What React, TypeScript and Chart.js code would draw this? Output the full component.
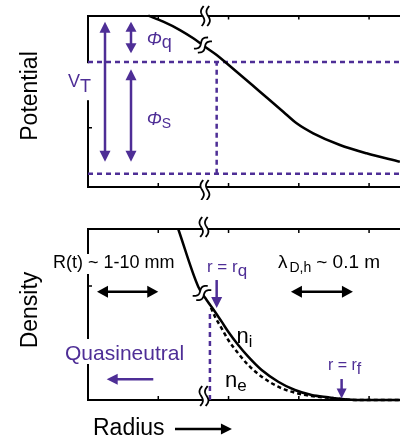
import React, { useEffect, useRef } from 'react';
import { Chart, registerables } from 'chart.js';

Chart.register(...registerables);

const PURPLE = '#4e2e96';
const BLACK = '#000000';
const FONT = '"Liberation Sans", Arial, sans-serif';

// Shared (broken) radius axis, arbitrary units
const R_MAX = 4.44;
const R_TICKS = [1, 2, 3, 4];

// Top panel: potential profile
const potentialR = [0.858, 1.071, 1.309, 1.498, 1.664, 1.831, 1.973, 2.115, 2.447, 2.778, 2.969, 3.205, 3.585, 3.964, 4.438];
const potentialV = [2.897, 2.795, 2.654, 2.514, 2.372, 2.232, 2.092, 1.95, 1.611, 1.273, 1.077, 0.908, 0.71, 0.57, 0.428];
const POT_MAX = 2.9;
const POT_TICKS = [1, 2];
const phiQuasi = 2.115; // potential at r = r_q
const phiWall = 0.225; // far-field potential
const rqTop = 1.831;

// Bottom panel: densities
const ionR = [1.284, 1.569, 1.688, 1.807, 1.902, 1.996, 2.138, 2.28, 2.471, 2.707, 2.944, 3.182, 3.418, 3.609, 3.87, 4.44];
const ionN = [3.0, 1.988, 1.754, 1.549, 1.374, 1.198, 0.965, 0.76, 0.526, 0.321, 0.175, 0.088, 0.047, 0.018, 0, 0];
const elecR = [1.75, 1.807, 1.902, 1.996, 2.138, 2.28, 2.471, 2.707, 2.944, 3.182, 3.513, 3.8, 4.44];
const elecN = [1.62, 1.461, 1.258, 1.053, 0.819, 0.614, 0.409, 0.233, 0.128, 0.07, 0.03, 0, 0];
const DEN_MAX = 3;
const DEN_TICKS = [1, 2];
const rqBottom = 1.735;
const nAtRq = 1.549;

type Seg = { t: string; size: number; italic?: boolean; dy?: number; gap?: number };
type Label = { x: number; y: number; color: string; segs: Seg[]; rotate?: boolean; mask?: number[] };
type Arrow = { x1: number; y1: number; x2: number; y2: number; color: string; start?: boolean; end?: boolean; lw?: number; hl?: number; hw?: number };
type Brk = { x: number; y: number; angle: number; h: number };

const topLabels: Label[] = [
  { x: -0.725, y: 1.539, color: BLACK, rotate: true, segs: [{ t: 'Potential', size: 23 }] },
  { x: -0.284, y: 1.696, color: PURPLE, segs: [{ t: 'V', size: 18 }, { t: 'T', size: 18, dy: 5 }], mask: [10.5, 8.5, 2, 3] },
  { x: 0.835, y: 2.401, color: PURPLE, segs: [{ t: 'Φ', size: 18, italic: true }, { t: 'q', size: 18, dy: 3 }] },
  { x: 0.835, y: 1.048, color: PURPLE, segs: [{ t: 'Φ', size: 18, italic: true }, { t: 'S', size: 14, dy: 3 }] },
];
const topArrows: Arrow[] = [
  { x1: 0.242, y1: 0.428, x2: 0.242, y2: 2.795, color: PURPLE, start: true, end: true },
  { x1: 0.612, y1: 2.261, x2: 0.612, y2: 2.795, color: PURPLE, start: true, end: true, hl: 10 },
  { x1: 0.612, y1: 0.428, x2: 0.612, y2: 1.99, color: PURPLE, start: true, end: true },
];
const topBreaks: Brk[] = [
  { x: 1.671, y: 2.891, angle: 0, h: 20 },
  { x: 1.664, y: -0.051, angle: 0, h: 20 },
  { x: 1.636, y: 2.401, angle: 45, h: 18 },
];

const bottomLabels: Label[] = [
  { x: -0.725, y: 1.579, color: BLACK, rotate: true, segs: [{ t: 'Density', size: 23 }] },
  { x: -0.498, y: 2.316, color: BLACK, segs: [{ t: 'R(t) ~ 1-10 mm', size: 18 }], mask: [1, 2, 1, 1] },
  { x: 2.703, y: 2.316, color: BLACK, segs: [{ t: 'λ', size: 19, gap: 2 }, { t: 'D,h', size: 14, dy: 4, gap: 5 }, { t: '~ 0.1 m', size: 19 }] },
  { x: 1.693, y: 2.246, color: PURPLE, segs: [{ t: 'r = r', size: 17 }, { t: 'q', size: 17, dy: 4 }] },
  { x: 2.115, y: 0.995, color: BLACK, segs: [{ t: 'n', size: 22 }, { t: 'i', size: 16, dy: 4 }] },
  { x: 1.949, y: 0.233, color: BLACK, segs: [{ t: 'n', size: 22 }, { t: 'e', size: 17, dy: 4 }] },
  { x: -0.327, y: 0.702, color: PURPLE, segs: [{ t: 'Quasineutral', size: 21 }], mask: [6, 0, 1, 1] },
  { x: 3.414, y: 0.526, color: PURPLE, segs: [{ t: 'r = r', size: 16 }, { t: 'f', size: 16, dy: 4 }] },
  { x: 0.071, y: -0.614, color: BLACK, segs: [{ t: 'Radius', size: 23 }] },
];
const bottomArrows: Arrow[] = [
  { x1: 1.831, y1: 2.105, x2: 1.831, y2: 1.614, color: PURPLE, end: true },
  { x1: 0.128, y1: 1.9, x2: 1.0, y2: 1.9, color: BLACK, start: true, end: true, hw: 12 },
  { x1: 2.888, y1: 1.9, x2: 3.77, y2: 1.9, color: BLACK, start: true, end: true, hw: 12 },
  { x1: 0.929, y1: 0.363, x2: 0.266, y2: 0.363, color: PURPLE, end: true },
  { x1: 3.609, y1: 0.368, x2: 3.609, y2: 0.026, color: PURPLE, end: true, hl: 10, hw: 10 },
  { x1: 1.238, y1: -0.509, x2: 2.048, y2: -0.509, color: BLACK, end: true },
];
const bottomBreaks: Brk[] = [
  { x: 1.65, y: 3.035, angle: 0, h: 20 },
  { x: 1.65, y: 0.07, angle: 0, h: 20 },
  { x: 1.622, y: 1.877, angle: 50, h: 18 },
];

function fontOf(s: Seg) {
  return `${s.italic ? 'italic ' : ''}${s.size}px ${FONT}`;
}

function drawArrow(ctx: CanvasRenderingContext2D, a: Arrow, X: (v: number) => number, Y: (v: number) => number) {
  const x1 = X(a.x1), y1 = Y(a.y1), x2 = X(a.x2), y2 = Y(a.y2);
  const hl = a.hl ?? 11, hw = a.hw ?? 11, lw = a.lw ?? 2.5;
  const ang = Math.atan2(y2 - y1, x2 - x1);
  const ux = Math.cos(ang), uy = Math.sin(ang);
  let sx = x1, sy = y1, ex = x2, ey = y2;
  if (a.start) { sx += ux * hl * 0.8; sy += uy * hl * 0.8; }
  if (a.end) { ex -= ux * hl * 0.8; ey -= uy * hl * 0.8; }
  ctx.strokeStyle = a.color;
  ctx.fillStyle = a.color;
  ctx.lineWidth = lw;
  ctx.lineCap = 'butt';
  ctx.beginPath();
  ctx.moveTo(sx, sy);
  ctx.lineTo(ex, ey);
  ctx.stroke();
  const head = (tx: number, ty: number, dx: number, dy: number) => {
    ctx.beginPath();
    ctx.moveTo(tx, ty);
    ctx.lineTo(tx - dx * hl - dy * hw / 2, ty - dy * hl + dx * hw / 2);
    ctx.lineTo(tx - dx * hl + dy * hw / 2, ty - dy * hl - dx * hw / 2);
    ctx.closePath();
    ctx.fill();
  };
  if (a.end) head(x2, y2, ux, uy);
  if (a.start) head(x1, y1, -ux, -uy);
}

function markPoints(off: number, h: number) {
  const pts: number[][] = [];
  for (let i = 0; i <= 24; i++) {
    const t = i / 24;
    const a = (t - 0.5) * h;
    const c = off - 2.2 * Math.sin(2 * Math.PI * t) + 2 * (0.5 - t);
    pts.push([c, a]);
  }
  return pts;
}

function drawBreak(ctx: CanvasRenderingContext2D, cx: number, cy: number, angle: number, h: number) {
  const gap = 5.5;
  ctx.save();
  ctx.translate(cx, cy);
  ctx.rotate((angle * Math.PI) / 180);
  const left = markPoints(-gap / 2, h);
  const right = markPoints(gap / 2, h);
  ctx.beginPath();
  left.forEach(([c, a], i) => (i === 0 ? ctx.moveTo(c, a) : ctx.lineTo(c, a)));
  for (let i = right.length - 1; i >= 0; i--) ctx.lineTo(right[i][0], right[i][1]);
  ctx.closePath();
  ctx.fillStyle = '#ffffff';
  ctx.fill();
  ctx.strokeStyle = BLACK;
  ctx.lineWidth = 1.8;
  for (const pts of [left, right]) {
    ctx.beginPath();
    pts.forEach(([c, a], i) => (i === 0 ? ctx.moveTo(c, a) : ctx.lineTo(c, a)));
    ctx.stroke();
  }
  ctx.restore();
}

function labelBox(ctx: CanvasRenderingContext2D, lab: Label, px: number, py: number) {
  let cur = px;
  let top = Infinity, bottom = -Infinity;
  for (const s of lab.segs) {
    ctx.font = fontOf(s);
    const m = ctx.measureText(s.t);
    const b = py + (s.dy ?? 0);
    top = Math.min(top, b - m.actualBoundingBoxAscent);
    bottom = Math.max(bottom, b + m.actualBoundingBoxDescent);
    cur += m.width + (s.gap ?? 0);
  }
  return { left: px, right: cur, top, bottom };
}

function makePlugin(id: string, labels: Label[], arrows: Arrow[], breaks: Brk[], xTicks: number[], yTicks: number[]) {
  return {
    id,
    beforeDatasetsDraw(chart: any) {
      const ctx: CanvasRenderingContext2D = chart.ctx;
      const xs = chart.scales.x, ys = chart.scales.y;
      const area = chart.chartArea;
      ctx.save();
      ctx.strokeStyle = BLACK;
      ctx.lineWidth = 1.5;
      ctx.beginPath();
      for (const t of xTicks) {
        const p = xs.getPixelForValue(t);
        ctx.moveTo(p, area.bottom);
        ctx.lineTo(p, area.bottom - 4);
        ctx.moveTo(p, area.top);
        ctx.lineTo(p, area.top + 4);
      }
      for (const t of yTicks) {
        const p = ys.getPixelForValue(t);
        ctx.moveTo(area.left, p);
        ctx.lineTo(area.left + 4, p);
      }
      ctx.stroke();
      // white boxes behind labels that sit on axis lines
      ctx.fillStyle = '#ffffff';
      for (const lab of labels) {
        if (!lab.mask) continue;
        const bx = labelBox(ctx, lab, xs.getPixelForValue(lab.x), ys.getPixelForValue(lab.y));
        const [pt, pb, pl, pr] = lab.mask;
        ctx.fillRect(bx.left - pl, bx.top - pt, bx.right - bx.left + pl + pr, bx.bottom - bx.top + pt + pb);
      }
      ctx.restore();
    },
    afterDraw(chart: any) {
      const ctx: CanvasRenderingContext2D = chart.ctx;
      const xs = chart.scales.x, ys = chart.scales.y;
      const X = (v: number) => xs.getPixelForValue(v);
      const Y = (v: number) => ys.getPixelForValue(v);
      ctx.save();
      for (const b of breaks) drawBreak(ctx, X(b.x), Y(b.y), b.angle, b.h);
      for (const a of arrows) drawArrow(ctx, a, X, Y);
      for (const lab of labels) {
        ctx.fillStyle = lab.color;
        ctx.textBaseline = 'alphabetic';
        if (lab.rotate) {
          const s = lab.segs[0];
          ctx.save();
          ctx.translate(X(lab.x), Y(lab.y));
          ctx.rotate(-Math.PI / 2);
          ctx.font = fontOf(s);
          ctx.textAlign = 'center';
          ctx.fillText(s.t, 0, 0);
          ctx.restore();
          continue;
        }
        ctx.textAlign = 'left';
        let cur = X(lab.x);
        const base = Y(lab.y);
        for (const s of lab.segs) {
          ctx.font = fontOf(s);
          ctx.fillText(s.t, cur, base + (s.dy ?? 0));
          cur += ctx.measureText(s.t).width + (s.gap ?? 0);
        }
      }
      ctx.restore();
    },
  };
}

function scalesFor(yMax: number) {
  const hidden = {
    grid: { display: false, drawTicks: false },
    border: { display: true, color: BLACK, width: 2 },
    ticks: { display: false, stepSize: 1 },
  };
  return {
    x: { type: 'linear', position: 'bottom', min: 0, max: R_MAX, ...hidden },
    x2: { type: 'linear', position: 'top', min: 0, max: R_MAX, ...hidden },
    y: { type: 'linear', position: 'left', min: 0, max: yMax, ...hidden },
  };
}

const pts = (xs: number[], ys: number[]) => xs.map((x, i) => ({ x, y: ys[i] }));

const lineDefaults = { pointRadius: 0, clip: false as const, xAxisID: 'x', yAxisID: 'y' };

export default function App() {
  const topRef = useRef<HTMLCanvasElement>(null);
  const botRef = useRef<HTMLCanvasElement>(null);

  useEffect(() => {
    const common = {
      animation: false as const,
      responsive: false,
      devicePixelRatio: 1,
      events: [] as any[],
      plugins: { legend: { display: false }, tooltip: { enabled: false } },
    };
    const top = new Chart(topRef.current!, {
      type: 'line',
      data: {
        datasets: [
          { ...lineDefaults, data: pts(potentialR, potentialV), borderColor: BLACK, borderWidth: 2.5, cubicInterpolationMode: 'monotone' },
          { ...lineDefaults, data: [{ x: 0, y: phiQuasi }, { x: R_MAX, y: phiQuasi }], borderColor: PURPLE, borderWidth: 2.5, borderDash: [5, 4] },
          { ...lineDefaults, data: [{ x: 0, y: phiWall }, { x: R_MAX, y: phiWall }], borderColor: PURPLE, borderWidth: 2.5, borderDash: [5, 4] },
          { ...lineDefaults, data: [{ x: rqTop, y: phiWall }, { x: rqTop, y: phiQuasi }], borderColor: PURPLE, borderWidth: 2.5, borderDash: [5, 4] },
        ] as any,
      },
      options: {
        ...common,
        layout: { padding: { left: 88, right: 0, top: 15.5, bottom: 13 } },
        scales: scalesFor(POT_MAX) as any,
      },
      plugins: [makePlugin('topDeco', topLabels, topArrows, topBreaks, R_TICKS, POT_TICKS)],
    });
    const bottom = new Chart(botRef.current!, {
      type: 'line',
      data: {
        datasets: [
          { ...lineDefaults, data: pts(ionR, ionN), borderColor: BLACK, borderWidth: 2.5, cubicInterpolationMode: 'monotone' },
          { ...lineDefaults, data: pts(elecR, elecN), borderColor: BLACK, borderWidth: 2.5, borderDash: [4, 3], cubicInterpolationMode: 'monotone' },
          { ...lineDefaults, data: [{ x: rqBottom, y: 0 }, { x: rqBottom, y: nAtRq }], borderColor: PURPLE, borderWidth: 2.5, borderDash: [5, 4] },
        ] as any,
      },
      options: {
        ...common,
        layout: { padding: { left: 88, right: 0, top: 29, bottom: 42 } },
        scales: scalesFor(DEN_MAX) as any,
      },
      plugins: [makePlugin('botDeco', bottomLabels, bottomArrows, bottomBreaks, R_TICKS, DEN_TICKS)],
    });
    return () => {
      top.destroy();
      bottom.destroy();
    };
  }, []);

  return (
    <div style={{ position: 'absolute', left: 0, top: 0, width: 400, height: 442, background: '#fff', overflow: 'hidden' }}>
      <canvas ref={topRef} width={400} height={200} style={{ position: 'absolute', left: 0, top: 0 }} />
      <canvas ref={botRef} width={400} height={242} style={{ position: 'absolute', left: 0, top: 200 }} />
    </div>
  );
}
